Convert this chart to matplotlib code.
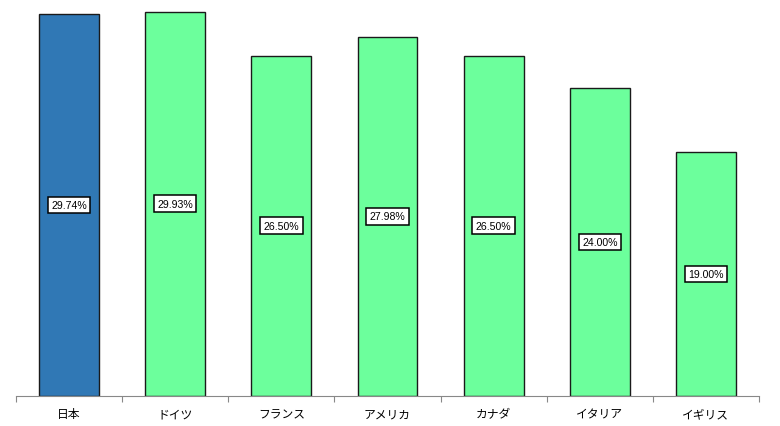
import matplotlib.pyplot as plt

plt.rcParams['font.family'] = ['Noto Sans CJK JP', 'DejaVu Sans']

# data
countries = ['日本', 'ドイツ', 'フランス', 'アメリカ', 'カナダ', 'イタリア', 'イギリス']
rates = [29.74, 29.93, 26.50, 27.98, 26.50, 24.00, 19.00]
labels = ['29.74%', '29.93%', '26.50%', '27.98%', '26.50%', '24.00%', '19.00%']

colors = ['#3078B5'] + ['#6CFF9C'] * 6

fig = plt.figure(figsize=(7.8, 4.27), dpi=100)
ax = fig.add_axes([16 / 780, 30 / 427, (759 - 16) / 780, 397 / 427])

x = range(len(countries))
ax.bar(x, rates, width=0.565, color=colors, edgecolor='#1a1a1a', linewidth=1.0)

# value boxes in the middle of each bar
for i, (v, lab) in enumerate(zip(rates, labels)):
    ax.text(i, v / 2, lab, ha='center', va='center', fontsize=7.6,
            family=['Liberation Sans', 'DejaVu Sans'],
            bbox=dict(boxstyle='square,pad=0.32', fc='white', ec='black', lw=1.1))

ax.set_xlim(-0.5, len(countries) - 0.5)
ax.set_ylim(0, 30.92)

for side in ['top', 'right', 'left']:
    ax.spines[side].set_visible(False)
ax.spines['bottom'].set_color('#888888')
ax.set_yticks([])

# ticks at category boundaries, labels at the centres
ax.set_xticks([i - 0.5 for i in range(len(countries) + 1)])
ax.set_xticklabels([])
ax.set_xticks(list(x), minor=True)
ax.set_xticklabels(countries, minor=True, fontsize=8.5)
ax.tick_params(axis='x', which='major', length=4, color='#888888', direction='out')
ax.tick_params(axis='x', which='minor', length=0, pad=8)

fig.savefig('out.png', dpi=100)
